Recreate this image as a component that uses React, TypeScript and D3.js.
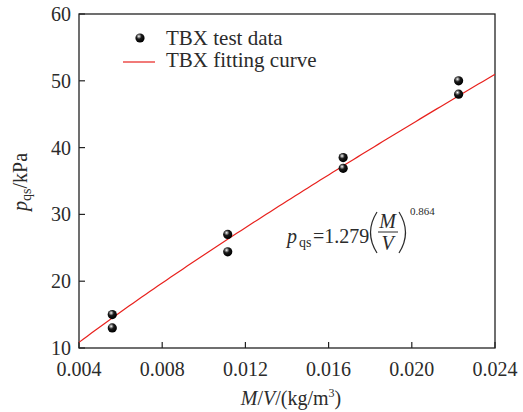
import React from "react";
import * as d3 from "d3";

// test data (M/V in kg/m3, p_qs in kPa)
const massRatio = [0.0056, 0.0056, 0.01115, 0.01115, 0.0167, 0.0167, 0.02225, 0.02225];
const pressure = [15.0, 13.0, 27.0, 24.4, 38.5, 36.9, 50.0, 48.0];

// fitting curve p = a * (M/V)^b  (a scaled for kg/m3)
const fitCoef = 1279;
const fitExp = 0.864;

const xTicks = [0.004, 0.008, 0.012, 0.016, 0.02, 0.024];
const yTicks = [10, 20, 30, 40, 50, 60];

const width = 523;
const height = 412;
const margin = { top: 14, right: 28, bottom: 64, left: 79 };
const font = "'Times New Roman', 'Liberation Serif', Tinos, 'DejaVu Serif', serif";
const textColor = "#2b2b2b";

const App = () => {
  const x = d3
    .scaleLinear()
    .domain([0.004, 0.024])
    .range([margin.left, width - margin.right]);
  const y = d3
    .scaleLinear()
    .domain([10, 60])
    .range([height - margin.bottom, margin.top]);

  // sample the fitted curve across the domain
  const curvePts = d3
    .range(0, 101)
    .map((i) => 0.004 + (i / 100) * 0.02)
    .map((v) => [v, fitCoef * Math.pow(v, fitExp)] as [number, number]);
  const line = d3
    .line<[number, number]>()
    .x((d) => x(d[0]))
    .y((d) => y(d[1]));

  const x0 = x.range()[0];
  const x1 = x.range()[1];
  const y0 = y.range()[0];
  const y1 = y.range()[1];

  const txt = { fontFamily: font, fill: textColor };

  return (
    <svg
      width={width}
      height={height}
      style={{ position: "absolute", left: 0, top: 0, background: "#fff", fontFamily: font }}
    >
      <defs>
        <radialGradient id="ball" cx="38%" cy="32%" r="65%">
          <stop offset="0%" stopColor="#ffffff" />
          <stop offset="18%" stopColor="#9a9a9a" />
          <stop offset="45%" stopColor="#1a1a1a" />
          <stop offset="100%" stopColor="#000" />
        </radialGradient>
        <clipPath id="plotClip">
          <rect x={x0} y={y1} width={x1 - x0} height={y0 - y1} />
        </clipPath>
      </defs>

      {/* frame */}
      <rect
        x={x0}
        y={y1}
        width={x1 - x0}
        height={y0 - y1}
        fill="none"
        stroke="#222"
        strokeWidth={1.3}
      />

      {/* x ticks */}
      {xTicks.map((t) => (
        <g key={"x" + t}>
          <line x1={x(t)} x2={x(t)} y1={y0} y2={y0 - 6} stroke="#222" strokeWidth={1.2} />
          <text x={x(t)} y={y0 + 28} textAnchor="middle" fontSize={20} style={txt}>
            {d3.format(".3f")(t)}
          </text>
        </g>
      ))}

      {/* y ticks */}
      {yTicks.map((t) => (
        <g key={"y" + t}>
          <line x1={x0} x2={x0 + 6} y1={y(t)} y2={y(t)} stroke="#222" strokeWidth={1.2} />
          <text x={x0 - 8} y={y(t) + 7} textAnchor="end" fontSize={20} style={txt}>
            {t}
          </text>
        </g>
      ))}

      {/* fitting curve */}
      <path
        d={line(curvePts) || ""}
        fill="none"
        stroke="#e8211d"
        strokeWidth={1.2}
        clipPath="url(#plotClip)"
      />

      {/* test data */}
      {massRatio.map((m, i) => (
        <circle key={"p" + i} cx={x(m)} cy={y(pressure[i])} r={4.6} fill="url(#ball)" />
      ))}

      {/* legend */}
      <circle cx={140} cy={38} r={4.6} fill="url(#ball)" />
      <text x={166} y={45} fontSize={21} style={txt}>
        TBX test data
      </text>
      <line x1={123} x2={155} y1={62} y2={62} stroke="#e8211d" strokeWidth={1.2} />
      <text x={166} y={67} fontSize={21} style={txt}>
        TBX fitting curve
      </text>

      {/* formula */}
      <text x={287} y={243} fontSize={20} style={txt}>
        <tspan fontStyle="italic">p</tspan>
        <tspan x={299} fontSize={14} dy={4}>qs</tspan>
        <tspan x={313} dy={-4}>=1.279</tspan>
      </text>
      <path d="M377,212 Q364,232.5 377,253" fill="none" stroke={textColor} strokeWidth={1.2} />
      <text x={387.5} y={228} fontSize={20} fontStyle="italic" textAnchor="middle" style={txt}>
        M
      </text>
      <line x1={378} x2={398} y1={232} y2={232} stroke={textColor} strokeWidth={1} />
      <text x={387.5} y={250} fontSize={20} fontStyle="italic" textAnchor="middle" style={txt}>
        V
      </text>
      <path d="M399,212 Q412,232.5 399,253" fill="none" stroke={textColor} strokeWidth={1.2} />
      <text x={410} y={215} fontSize={11} style={txt}>
        {fitExp}
      </text>

      {/* axis titles */}
      <text x={291} y={405} fontSize={20} textAnchor="middle" style={txt}>
        <tspan fontStyle="italic">M</tspan>/<tspan fontStyle="italic">V</tspan>/(kg/m
        <tspan fontSize={12} dy={-8}>3</tspan>
        <tspan dy={8}>)</tspan>
      </text>
      <text
        transform={`translate(27, 182) rotate(-90)`}
        textAnchor="middle"
        fontSize={20}
        style={txt}
      >
        <tspan fontStyle="italic">p</tspan>
        <tspan fontSize={14} dy={4}>qs</tspan>
        <tspan dy={-4}>/kPa</tspan>
      </text>
    </svg>
  );
};

export default App;
